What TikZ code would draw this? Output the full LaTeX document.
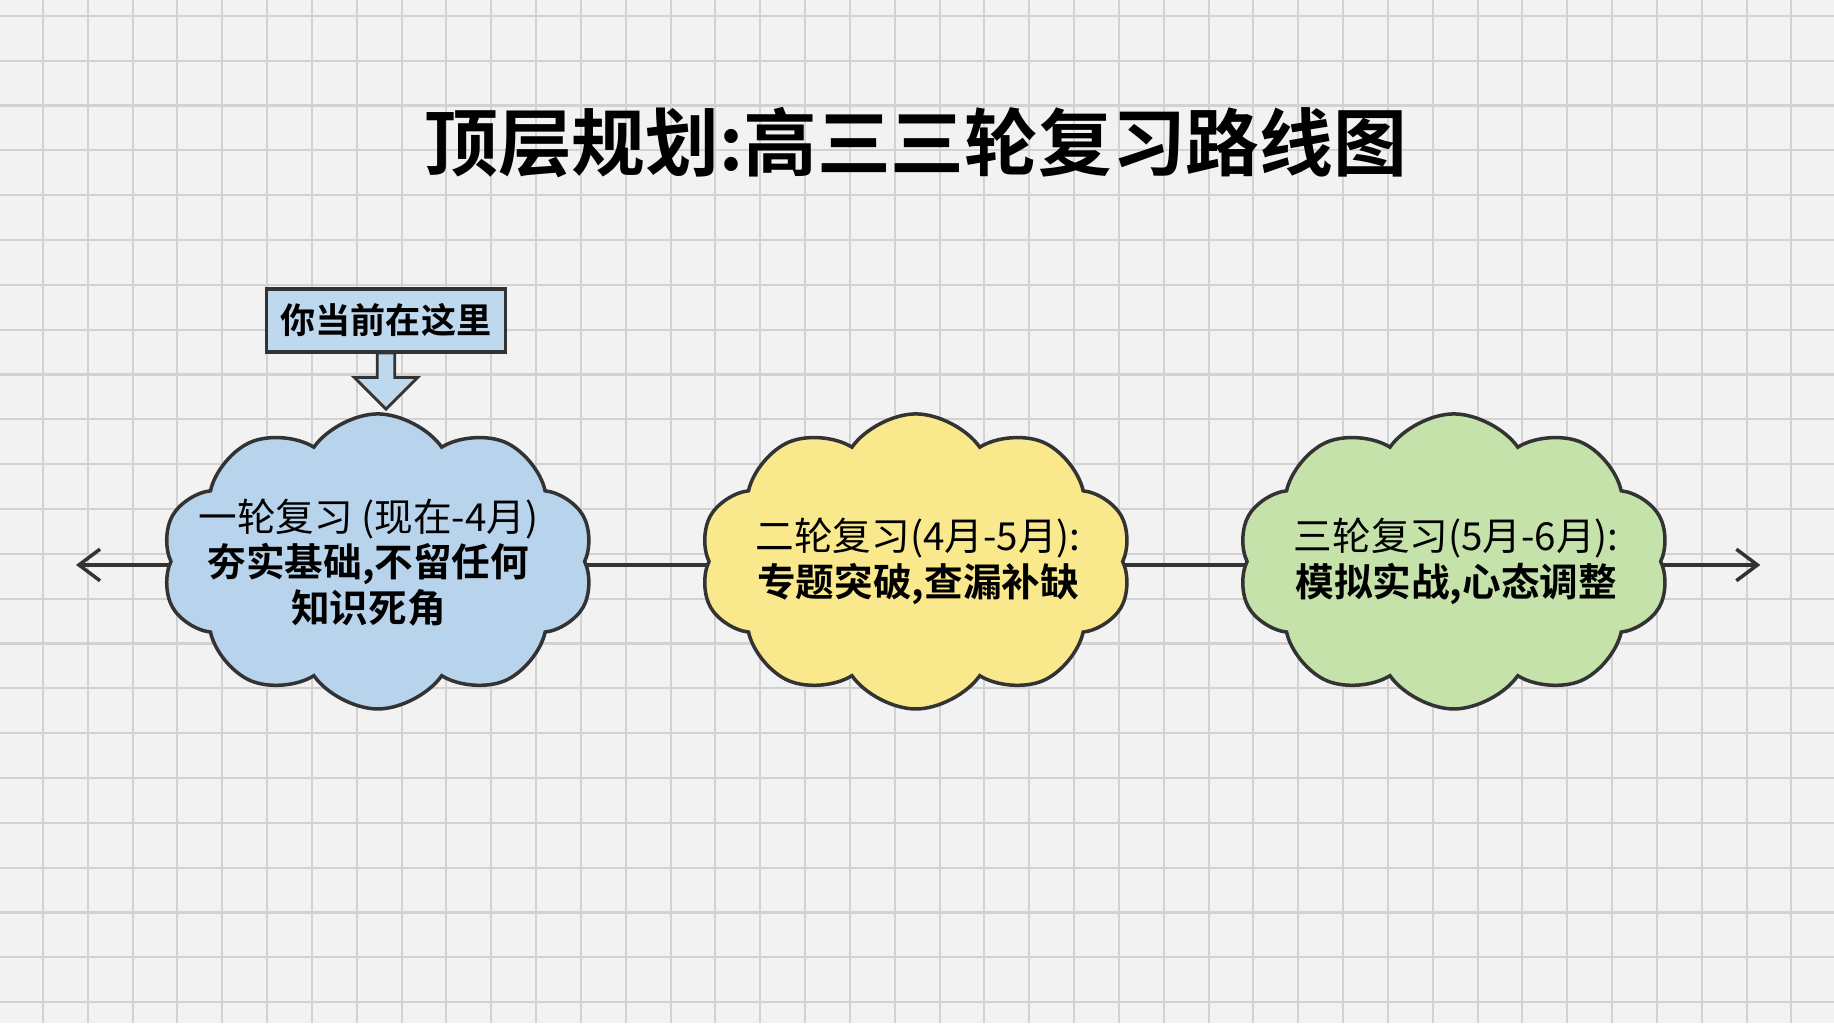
\documentclass[tikz,border=0pt]{standalone}
\usepackage{fontspec}
\newfontfamily\cjk{Noto Sans CJK SC}
\newfontfamily\cjkb{Noto Sans CJK SC Bold}
\usetikzlibrary{shapes.symbols,shapes.arrows,arrows.meta}
\definecolor{cblue}{RGB}{184,212,236}
\definecolor{cyel}{RGB}{250,232,140}
\definecolor{cgreen}{RGB}{196,226,170}
\definecolor{hblue}{RGB}{190,216,238}
\begin{document}
\begin{tikzpicture}[x=0.011696cm,y=-0.011696cm,
  cl/.style={cloud,cloud puffs=10,cloud puff arc=110,aspect=1.45,draw=black!80,line width=1pt,minimum width=123pt,minimum height=84pt,inner sep=0pt},
  tx/.style={align=center,font=\cjk\fontsize{11}{13}\selectfont},
  ln/.style={draw=black!80,line width=1pt}]
\useasboundingbox (0,0) rectangle (1568,875);
\fill[gray!10] (0,0) rectangle (1568,875);
\foreach \i in {0,...,41} \draw[gray!35,line width=0.6pt] (36.7+\i*38.33,0) -- (36.7+\i*38.33,875);
\foreach \j in {0,...,22} \draw[gray!35,line width=0.6pt] (0,13.5+\j*38.33) -- (1568,13.5+\j*38.33);
\node[font=\cjkb\fontsize{21}{24}\selectfont] (t) at (783,122) {顶层规划:高三三轮复习路线图};
\node[cl,fill=cblue] (c1) at (323,480) {};
\node[cl,fill=cyel] (c2) at (783,480) {};
\node[cl,fill=cgreen] (c3) at (1243,480) {};
\node[tx] (t1) at (315,481) {一轮复习 (现在-4月)\\{\cjkb 夯实基础,不留任何}\\{\cjkb 知识死角}};
\node[tx] (t2) at (785,480) {二轮复习(4月-5月):\\{\cjkb 专题突破,查漏补缺}};
\node[tx] (t3) at (1245,480) {三轮复习(5月-6月):\\{\cjkb 模拟实战,心态调整}};
\coordinate (L) at (65,483);
\coordinate (R) at (1505,483);
\draw[ln,-{Straight Barb[length=6pt,width=9pt]}] (c1.west|-L) -- (L);
\draw[ln] (c1.east|-L) -- (c2.west|-L);
\draw[ln] (c2.east|-L) -- (c3.west|-L);
\draw[ln,-{Straight Barb[length=6pt,width=9pt]}] (c3.east|-L) -- (R);
\node[single arrow,draw=black!80,fill=hblue,line width=0.8pt,rotate=-90,minimum height=16pt,minimum width=18pt,single arrow head extend=5pt,single arrow head indent=0pt,inner sep=1.5pt] (a) at (330,322) {};
\node[draw=black!80,fill=hblue,line width=1pt,minimum width=68pt,minimum height=18pt,inner sep=1pt,font=\cjkb\fontsize{10}{12}\selectfont] (h) at (330,274) {你当前在这里};
\end{tikzpicture}
\end{document}
